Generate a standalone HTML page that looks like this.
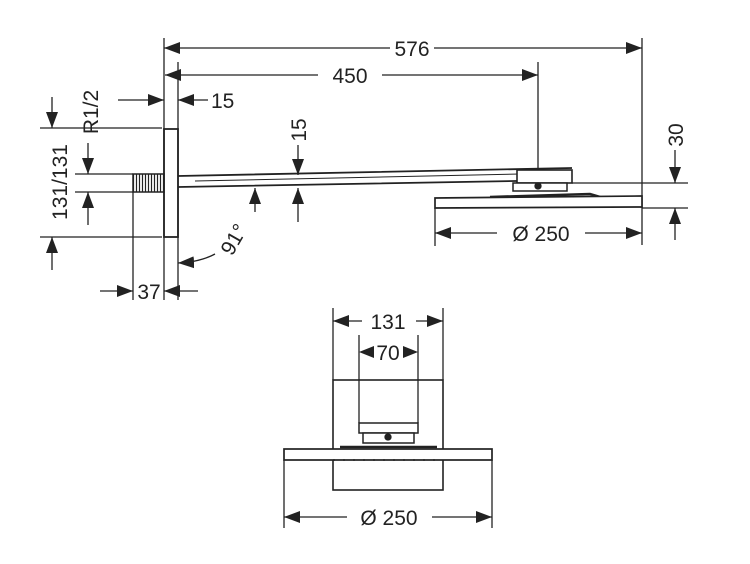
<!DOCTYPE html>
<html><head><style>body{margin:0;background:#fff}svg{display:block}text{font-family:"Liberation Sans",sans-serif;font-size:21px;fill:#222}</style></head>
<body>
<svg width="750" height="564" viewBox="0 0 750 564" xmlns="http://www.w3.org/2000/svg">
<defs>
<marker id="a" viewBox="0 0 16 12" refX="16" refY="6" markerWidth="16" markerHeight="12" markerUnits="userSpaceOnUse" orient="auto"><path d="M0,0L16,6L0,12z" fill="#222"/></marker>
<pattern id="h" width="3" height="4" patternUnits="userSpaceOnUse"><rect width="3" height="4" fill="#fff"/><line x1="1.5" y1="0" x2="1.5" y2="4" stroke="#222" stroke-width="1.2"/></pattern>
</defs>
<g stroke="#222" stroke-width="1.3" fill="none">
<line x1="164" y1="38" x2="164" y2="300"/>
<line x1="178" y1="62" x2="178" y2="300"/>
<line x1="642" y1="38" x2="642" y2="245"/>
<line x1="538" y1="62" x2="538" y2="186"/>
<line x1="390" y1="48" x2="164" y2="48" marker-end="url(#a)"/>
<line x1="434" y1="48" x2="642" y2="48" marker-end="url(#a)"/>
<line x1="318" y1="75" x2="165" y2="75" marker-end="url(#a)"/>
<line x1="382" y1="75" x2="538" y2="75" marker-end="url(#a)"/>
<line x1="118" y1="100" x2="164" y2="100" marker-end="url(#a)"/>
<line x1="208" y1="100" x2="178" y2="100" marker-end="url(#a)"/>
<rect x="164" y="129" width="14" height="108" stroke-width="1.8"/>
<rect x="133" y="174" width="31" height="18" fill="url(#h)" stroke-width="1.5"/>
<path d="M178,176 L572,168 M178,187 L572,180" stroke-width="1.8"/>
<path d="M195,181 L520,174" stroke-width="1"/>
<rect x="517" y="170" width="55" height="13" fill="#fff" stroke-width="1.6"/>
<rect x="513" y="183" width="54" height="8" fill="#fff" stroke-width="1.5"/>
<circle cx="538" cy="186" r="3" fill="#222"/>
<path d="M490,197 L590,194 L600,197" stroke-width="2.5"/>
<path d="M435,198 L642,196 L642,207 L435,208 Z" fill="#fff" stroke-width="1.7"/>
<line x1="572" y1="183" x2="688" y2="183"/>
<line x1="642" y1="208" x2="688" y2="208"/>
<line x1="675" y1="150" x2="675" y2="183" marker-end="url(#a)"/>
<line x1="675" y1="240" x2="675" y2="208" marker-end="url(#a)"/>
<line x1="435" y1="208" x2="435" y2="246"/>
<line x1="497" y1="233" x2="435" y2="233" marker-end="url(#a)"/>
<line x1="585" y1="233" x2="642" y2="233" marker-end="url(#a)"/>
<line x1="298" y1="145" x2="298" y2="175" marker-end="url(#a)"/>
<line x1="298" y1="222" x2="298" y2="188" marker-end="url(#a)"/>
<line x1="255" y1="212" x2="255" y2="188" marker-end="url(#a)"/>
<path d="M215,254 Q200,262 178,263" marker-end="url(#a)"/>
<line x1="40" y1="128" x2="162" y2="128"/>
<line x1="40" y1="237" x2="162" y2="237"/>
<line x1="52" y1="97" x2="52" y2="128" marker-end="url(#a)"/>
<line x1="52" y1="270" x2="52" y2="237" marker-end="url(#a)"/>
<line x1="75" y1="174" x2="133" y2="174"/>
<line x1="75" y1="192" x2="133" y2="192"/>
<line x1="88" y1="143" x2="88" y2="174" marker-end="url(#a)"/>
<line x1="88" y1="225" x2="88" y2="192" marker-end="url(#a)"/>
<line x1="133" y1="192" x2="133" y2="300"/>
<line x1="100" y1="291" x2="133" y2="291" marker-end="url(#a)"/>
<line x1="198" y1="291" x2="164" y2="291" marker-end="url(#a)"/>
<line x1="333" y1="308" x2="333" y2="380"/>
<line x1="443" y1="308" x2="443" y2="380"/>
<line x1="359" y1="335" x2="359" y2="423"/>
<line x1="418" y1="335" x2="418" y2="423"/>
<line x1="362" y1="321" x2="333" y2="321" marker-end="url(#a)"/>
<line x1="416" y1="321" x2="443" y2="321" marker-end="url(#a)"/>
<path d="M359,352 L374,346 L374,358Z M418,352 L403,346 L403,358Z" fill="#222" stroke="none"/>
<rect x="333" y="380" width="110" height="110" stroke-width="1.6"/>
<rect x="359" y="423" width="59" height="10" fill="#fff" stroke-width="1.5"/>
<rect x="363" y="433" width="51" height="10" fill="#fff" stroke-width="1.5"/>
<circle cx="388" cy="437" r="3" fill="#222"/>
<path d="M340,447 L437,447" stroke-width="2.5"/>
<rect x="284" y="449" width="208" height="11" fill="#fff" stroke-width="1.7"/>
<line x1="333" y1="460" x2="443" y2="460" stroke-dasharray="2,8" stroke-width="1.5"/>
<line x1="284" y1="460" x2="284" y2="528"/>
<line x1="492" y1="460" x2="492" y2="528"/>
<line x1="347" y1="517" x2="284" y2="517" marker-end="url(#a)"/>
<line x1="432" y1="517" x2="492" y2="517" marker-end="url(#a)"/>
</g>
<text x="412" y="56" text-anchor="middle">576</text>
<text x="350" y="83" text-anchor="middle">450</text>
<text x="211" y="108">15</text>
<text x="541" y="241" text-anchor="middle">Ø 250</text>
<text x="389" y="525" text-anchor="middle">Ø 250</text>
<text x="388" y="329" text-anchor="middle">131</text>
<text x="388" y="360" text-anchor="middle">70</text>
<text x="149" y="299" text-anchor="middle">37</text>
<text transform="translate(306,130) rotate(-90)" text-anchor="middle">15</text>
<text transform="translate(683,135) rotate(-90)" text-anchor="middle">30</text>
<text transform="translate(98,112) rotate(-90)" text-anchor="middle">R1/2</text>
<text transform="translate(67,182) rotate(-90)" text-anchor="middle">131/131</text>
<text transform="translate(240,243) rotate(-60)" text-anchor="middle">91°</text>
</svg>
</body></html>
